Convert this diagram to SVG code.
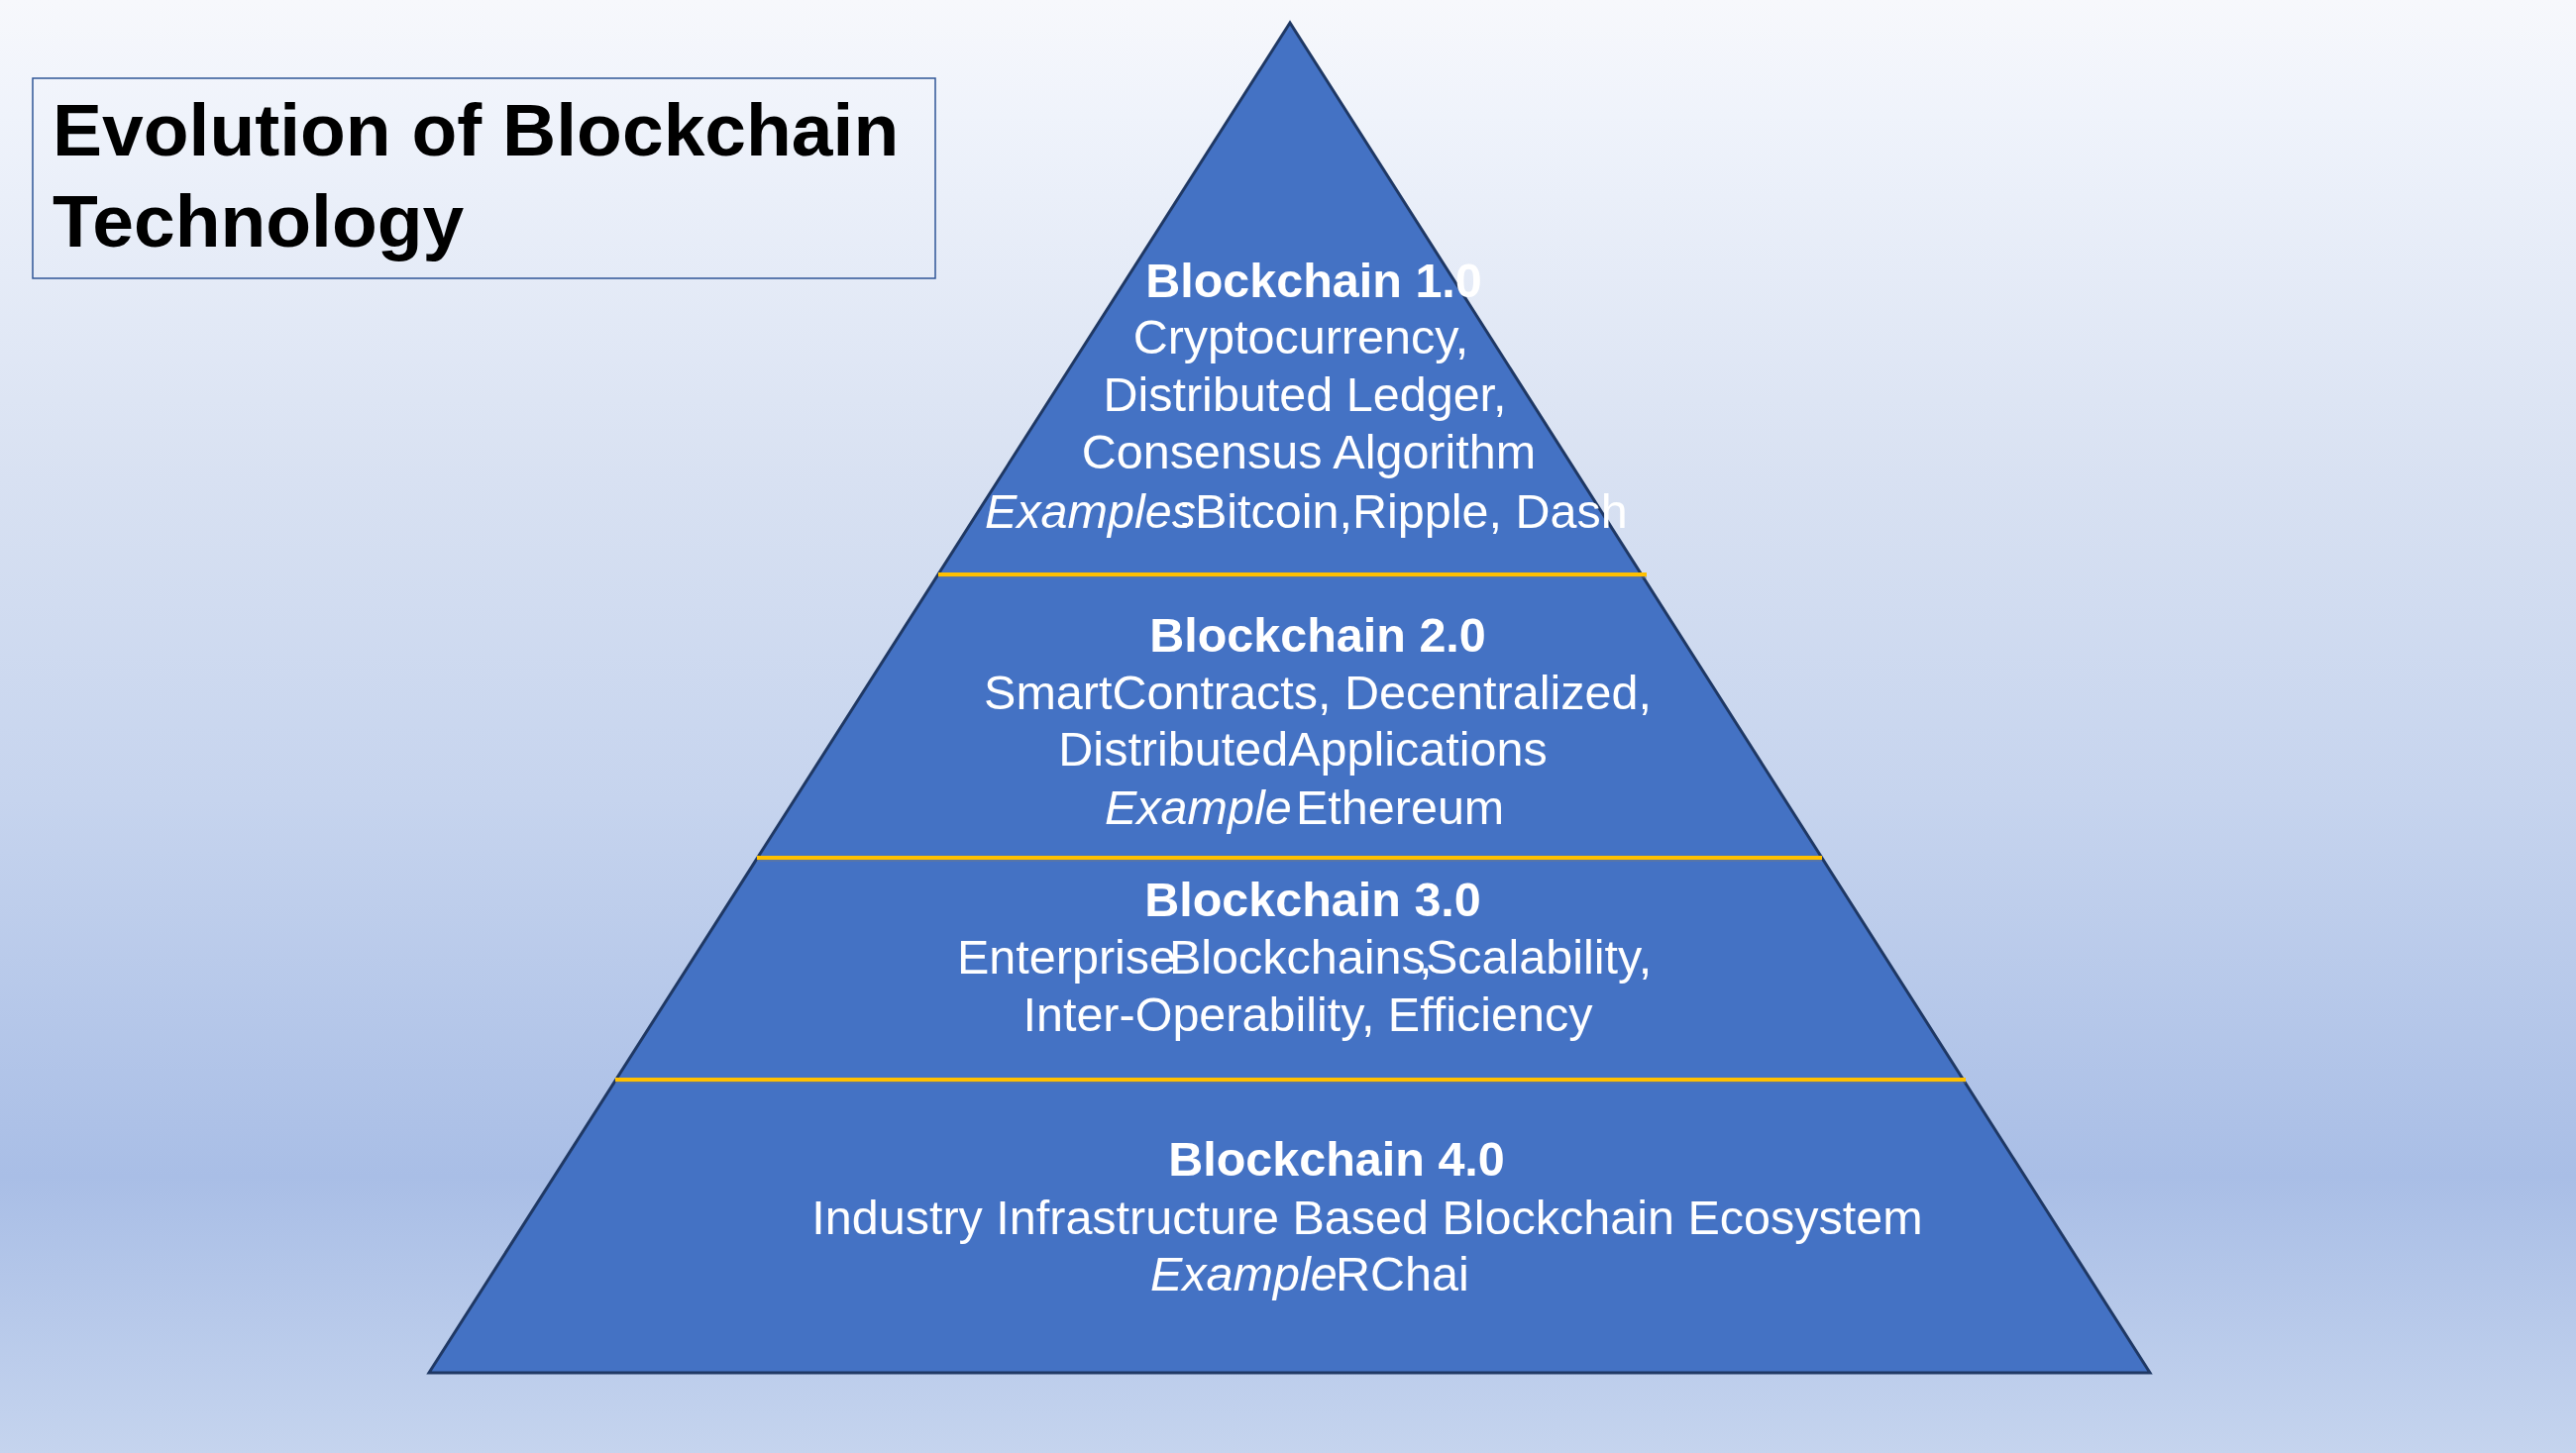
<svg xmlns="http://www.w3.org/2000/svg" width="2600" height="1467" viewBox="0 0 2600 1467">
<defs>
<linearGradient id="bg" x1="0" y1="0" x2="0" y2="1">
<stop offset="0" stop-color="#F7F8FC"/>
<stop offset="0.08" stop-color="#EFF3FB"/>
<stop offset="0.33" stop-color="#D8E1F2"/>
<stop offset="0.55" stop-color="#C6D4EE"/>
<stop offset="0.81" stop-color="#A9BEE6"/>
<stop offset="1" stop-color="#C5D4EE"/>
</linearGradient>
</defs>
<style>
.t{font-family:"Liberation Sans",Arial,sans-serif;fill:#FFFFFF;font-size:48.5px}
.b{font-weight:bold}
.i{font-style:italic}
.m{text-anchor:middle}
.ttl{font-family:"Liberation Sans",Arial,sans-serif;font-weight:bold;font-size:75px;fill:#000000}
.sep{stroke:#FFC000;stroke-width:4}
.sh{stroke:#6E7A8C;stroke-width:1.5;opacity:0.6}
</style>
<rect x="0" y="0" width="2600" height="1467" fill="url(#bg)"/>
<g id="title">
<rect x="33" y="79" width="911" height="202" fill="none" stroke="#2F5597" stroke-width="1.5"/>
<text class="ttl" x="53" y="157">Evolution of Blockchain</text>
<text class="ttl" x="53" y="249">Technology</text>
</g>
<g id="pyramid">
<polygon points="1302,23 433,1386 2170,1386" fill="#4472C4" stroke="#1F3864" stroke-width="3" stroke-linejoin="miter"/>
</g>
<g id="separators">
<line class="sh" x1="947" y1="583" x2="1662" y2="583"/>
<line class="sep" x1="947" y1="580" x2="1662" y2="580"/>
<line class="sh" x1="764" y1="869" x2="1839" y2="869"/>
<line class="sep" x1="764" y1="866" x2="1839" y2="866"/>
<line class="sh" x1="621" y1="1093" x2="1984" y2="1093"/>
<line class="sep" x1="621" y1="1090" x2="1984" y2="1090"/>
</g>
<g id="level1">
<text class="t b m" x="1326" y="300">Blockchain 1.0</text>
<text class="t m" x="1313" y="357">Cryptocurrency,</text>
<text class="t m" x="1317" y="415">Distributed Ledger,</text>
<text class="t m" x="1321" y="473">Consensus Algorithm</text>
<text class="t" y="533"><tspan class="i" x="994">Examples</tspan><tspan x="1189">:</tspan><tspan x="1206">Bitcoin,Ripple, Dash</tspan></text>
</g>
<g id="level2">
<text class="t b m" x="1330" y="658">Blockchain 2.0</text>
<text class="t m" x="1330" y="716">SmartContracts, Decentralized,</text>
<text class="t m" x="1315" y="773">DistributedApplications</text>
<text class="t" y="832"><tspan class="i" x="1115">Example</tspan><tspan x="1308">Ethereum</tspan></text>
</g>
<g id="level3">
<text class="t b m" x="1325" y="925">Blockchain 3.0</text>
<text class="t" y="983"><tspan x="966">Enterprise</tspan><tspan x="1180">Blockchains</tspan><tspan x="1432">,</tspan><tspan x="1439">Scalability,</tspan></text>
<text class="t m" x="1320" y="1041">Inter-Operability, Efficiency</text>
</g>
<g id="level4">
<text class="t b m" x="1349" y="1187">Blockchain 4.0</text>
<text class="t m" x="1380" y="1246">Industry Infrastructure Based Blockchain Ecosystem</text>
<text class="t" y="1303"><tspan class="i" x="1161">Example</tspan><tspan x="1348">RChai</tspan></text>
</g>
</svg>
